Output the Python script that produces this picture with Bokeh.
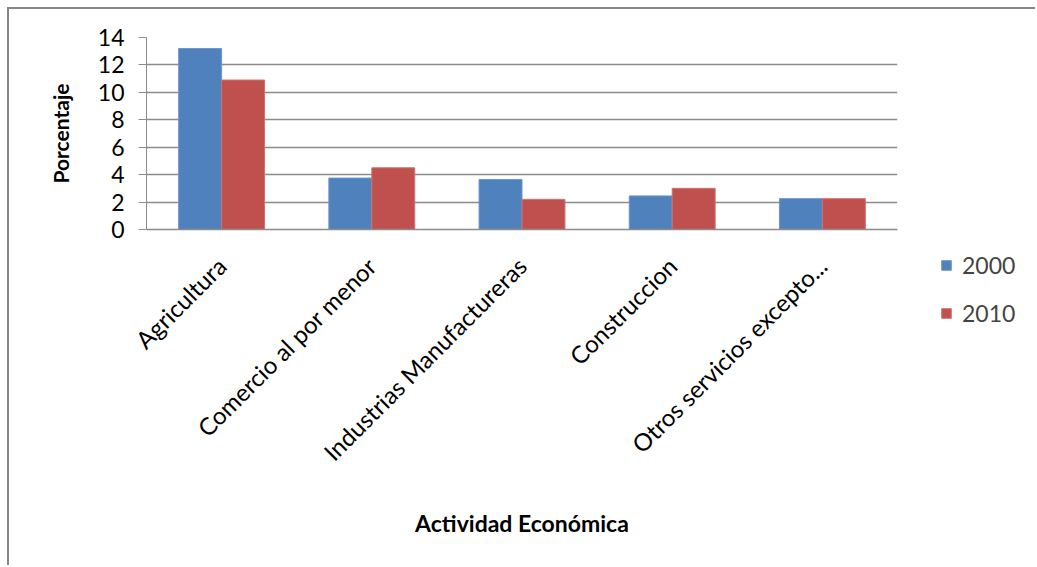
import math
from bokeh.plotting import figure
from bokeh.layouts import row
from bokeh.models import ColumnDataSource, FactorRange, Legend, LegendItem
from bokeh.transform import dodge
from bokeh.embed import file_html
from bokeh.resources import INLINE

categories = ["Agricultura", "Comercio al por menor", "Industrias Manufactureras",
              "Construccion", "Otros servicios excepto..."]
series_2000 = [13.2, 3.75, 3.65, 2.45, 2.25]
series_2010 = [10.9, 4.5, 2.2, 3.0, 2.25]
y_ticks = [0, 2, 4, 6, 8, 10, 12, 14]
series_names = ["2000", "2010"]

FONT = "Lato"
BLUE = "#4F81BD"
RED = "#C0504D"
GRID = "#8C8C8C"

src = ColumnDataSource(dict(cat=categories, a=series_2000, b=series_2010))

p = figure(x_range=FactorRange(*categories), y_range=(0, 14),
           width=890, height=556, output_backend="svg", toolbar_location=None,
           min_border_left=137, min_border_top=28, min_border_right=2,
           min_border_bottom=336)

r1 = p.vbar(x=dodge("cat", -0.143, range=p.x_range), top="a", width=0.286,
            source=src, fill_color=BLUE, line_color="#6D96CC", line_width=1)
r2 = p.vbar(x=dodge("cat", 0.143, range=p.x_range), top="b", width=0.286,
            source=src, fill_color=RED, line_color="#D07270", line_width=1)

p.outline_line_color = None
p.xgrid.grid_line_color = None
p.ygrid.grid_line_color = GRID
p.ygrid.grid_line_width = 1.5
p.yaxis.ticker = y_ticks
p.yaxis.minor_tick_line_color = None
p.yaxis.major_tick_in = 0
p.yaxis.major_tick_out = 8
p.yaxis.major_tick_line_color = GRID
p.yaxis.axis_line_color = GRID
p.yaxis.major_label_text_font = FONT
p.yaxis.major_label_text_font_size = "23px"
p.yaxis.major_label_text_color = "black"
p.yaxis.major_label_standoff = 14
p.yaxis.axis_label = "Porcentaje"
p.yaxis.axis_label_text_font = FONT
p.yaxis.axis_label_text_font_style = "bold"
p.yaxis.axis_label_text_font_size = "21px"
p.yaxis.axis_label_text_color = "black"
p.yaxis.axis_label_standoff = 22

p.xaxis.axis_line_color = GRID
p.xaxis.axis_line_width = 1.5
p.xaxis.major_tick_line_color = None
p.xaxis.minor_tick_line_color = None
p.xaxis.major_label_orientation = math.pi / 4
p.xaxis.major_label_text_font = FONT
p.xaxis.major_label_text_font_size = "24px"
p.xaxis.major_label_text_color = "black"
p.xaxis.major_label_standoff = 26
p.xaxis.axis_label = "Actividad Económica"
p.xaxis.axis_label_text_font = FONT
p.xaxis.axis_label_text_font_style = "bold"
p.xaxis.axis_label_text_font_size = "23px"
p.xaxis.axis_label_text_color = "black"
p.xaxis.axis_label_standoff = 30

# legend panel: a separate, axis-less figure to the right of the plot area.
# Its proxy bars use the same data but lie outside its visible y range.
lf = figure(width=136, height=556, output_backend="svg", toolbar_location=None,
            x_range=FactorRange(*categories), y_range=(1000, 1001),
            min_border=0)
lf.frame_align = False
lf.axis.visible = False
lf.grid.visible = False
lf.outline_line_color = None
l1 = lf.vbar(x="cat", top="a", width=0.1, source=src,
             fill_color=BLUE, line_color="#6D96CC")
l2 = lf.vbar(x="cat", top="b", width=0.1, source=src,
             fill_color=RED, line_color="#D07270")
legend = Legend(items=[LegendItem(label=series_names[0], renderers=[l1]),
                       LegendItem(label=series_names[1], renderers=[l2])],
                location=(41, 238), padding=0, margin=0, spacing=20,
                glyph_width=12, glyph_height=12, label_height=20,
                label_text_font=FONT, label_text_font_size="23px",
                label_standoff=10, border_line_color=None,
                background_fill_alpha=0)
lf.add_layout(legend, "center")

layout = row(p, lf)
layout.styles = {"margin-left": "7px", "margin-top": "7px",
                 "border-left": "2px solid #868686", "border-top": "2px solid #868686"}

open("out.html", "w").write(file_html(layout, INLINE))
